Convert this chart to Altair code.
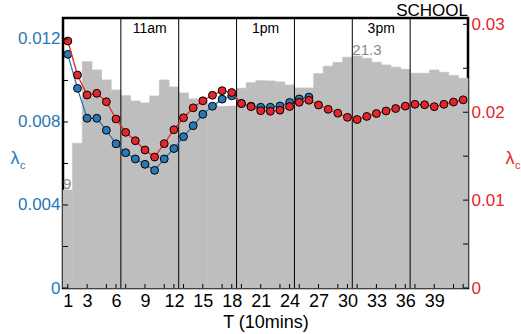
import altair as alt
import pandas as pd

# ---------------- data ----------------
T_blue = list(range(1, 27))
blue_vals = [0.01126, 0.00962, 0.00818, 0.00818, 0.00760, 0.00695, 0.00652, 0.00622,
             0.00596, 0.00567, 0.00622, 0.00672, 0.00729, 0.00782, 0.00837, 0.00876,
             0.00910, 0.00926, 0.00889, 0.00876, 0.00871, 0.00871, 0.00877, 0.00894,
             0.00911, 0.00920]
T_red = list(range(1, 43))
red_vals = [0.0281, 0.02423, 0.02196, 0.02215, 0.02119, 0.01923, 0.01771, 0.01676,
            0.0157, 0.0149, 0.01642, 0.01801, 0.01937, 0.0205, 0.0213, 0.02193,
            0.02245, 0.02224, 0.02099, 0.02063, 0.02017, 0.02011, 0.02023, 0.02065,
            0.02113, 0.02136, 0.02082, 0.02033, 0.01989, 0.01942, 0.01917, 0.01952,
            0.01985, 0.02014, 0.02042, 0.02069, 0.0209, 0.02085, 0.02063, 0.0209,
            0.02116, 0.02141]
T_bar = list(range(1, 43))
bar_vals = [9.0, 13.29, 20.78, 20.02, 19.1, 18.18, 17.66, 17.17, 16.99, 17.63, 19.1,
            18.46, 17.91, 17.36, 17.26, 16.9, 16.67, 16.7, 18.34, 18.85, 19.04, 19.01,
            18.92, 18.64, 18.37, 18.37, 19.68, 20.36, 20.71, 21.18, 21.3, 21.09, 20.72,
            20.48, 20.27, 20.08, 19.71, 19.71, 20.02, 19.8, 19.5, 19.26]
bar_label_T = [0.5, 30.5]
bar_label_v = [9.0, 21.3]
bar_label_txt = ["9", "21.3"]
sep_lines = [6.5, 12.5, 18.5, 24.5, 30.5, 36.5]
time_T = [9.5, 21.5, 33.5]
time_txt = ["11am", "1pm", "3pm"]
x_label_vals = [1, 3, 6, 9, 12, 15, 18, 21, 24, 27, 30, 33, 36, 39]
x_tick_vals = sorted(set(list(range(1, 43, 2)) + list(range(3, 43, 3))))
left_tick_vals = [0, 0.002, 0.004, 0.006, 0.008, 0.010, 0.012]
left_label_vals = [0, 0.004, 0.008, 0.012]
right_tick_vals = [0, 0.005, 0.01, 0.015, 0.02, 0.025, 0.03]
right_label_vals = [0, 0.01, 0.02, 0.03]

W, H = 405, 270
BLUE = "#2a78b5"
RED = "#e3262a"
GRAY = "#bebebe"
FONT = "Liberation Sans"

xs = alt.Scale(domain=[0.5, 42.5], nice=False, zero=False)
ys_blue = alt.Scale(domain=[0, 0.01301], nice=False)
ys_red = alt.Scale(domain=[0, 0.03072], nice=False)
ys_bar = alt.Scale(domain=[0, 24.79], nice=False)

x_axis = alt.Axis(values=x_label_vals, ticks=False, domain=False, grid=False,
                  labelFontSize=18, labelColor="black", labelPadding=4,
                  title="T (10mins)", titleFontSize=18, titleFontWeight="normal",
                  titleColor="black", titlePadding=3, labelFlush=False)


def X(field):
    return alt.X(field, type="quantitative", scale=xs, axis=x_axis)


df_blue = pd.DataFrame({"t": T_blue, "v": blue_vals})
df_red = pd.DataFrame({"t": T_red, "v": red_vals})
df_bar = pd.DataFrame({"t": T_bar, "v": bar_vals})
df_bar_lab = pd.DataFrame({"t": bar_label_T, "v": bar_label_v, "txt": bar_label_txt})
df_sep = pd.DataFrame({"t": sep_lines})
df_time = pd.DataFrame({"t": time_T, "txt": time_txt})
df_xt = pd.DataFrame({"t": x_tick_vals})
df_lt = pd.DataFrame({"v": left_tick_vals})
df_rt = pd.DataFrame({"v": right_tick_vals})
df_one = pd.DataFrame({"a": [0]})

bars = alt.Chart(df_bar).transform_calculate(
    t0="datum.t - 0.5", t1="datum.t + 0.5", z="0"
).mark_bar(color=GRAY, stroke=GRAY, strokeWidth=0.7).encode(
    x=X("t0"), x2="t1",
    y=alt.Y("v:Q", scale=ys_bar, axis=None), y2="z:Q",
)

bar_labels = alt.Chart(df_bar_lab).mark_text(
    align="left", baseline="alphabetic", dy=-1, fontSize=15, font=FONT, color="#8a8a8a"
).encode(x=X("t"), y=alt.Y("v:Q", scale=ys_bar, axis=None), text="txt:N")

seps = alt.Chart(df_sep).mark_rule(color="black", strokeWidth=1).encode(
    x=X("t"), y=alt.value(0), y2=alt.value(H)
)

times = alt.Chart(df_time).mark_text(
    fontSize=14, font=FONT, color="black", baseline="middle"
).encode(x=X("t"), y=alt.value(11), text="txt:N")

blue_axis = alt.Axis(orient="left", values=left_label_vals,
                     labelExpr="datum.value == 0 ? '0' : format(datum.value, '.3f')",
                     labelColor=BLUE, labelFontSize=17, ticks=False, domain=False,
                     grid=False, title=None, labelPadding=3)
red_axis = alt.Axis(orient="right", values=right_label_vals,
                    labelExpr="datum.value == 0 ? '0' : format(datum.value, '.2f')",
                    labelColor=RED, labelFontSize=17, ticks=False, domain=False,
                    grid=False, title=None, labelPadding=3)

blue_line = alt.Chart(df_blue).mark_line(color=BLUE, strokeWidth=1.3).encode(
    x=X("t"), y=alt.Y("v:Q", scale=ys_blue, axis=blue_axis)
)
blue_pts = alt.Chart(df_blue).mark_point(
    filled=True, fill=BLUE, stroke="black", strokeWidth=1, size=62, opacity=1
).encode(x=X("t"), y=alt.Y("v:Q", scale=ys_blue, axis=None))

red_line = alt.Chart(df_red).mark_line(color=RED, strokeWidth=1.3).encode(
    x=X("t"), y=alt.Y("v:Q", scale=ys_red, axis=red_axis)
)
red_pts = alt.Chart(df_red).mark_point(
    filled=True, fill=RED, stroke="black", strokeWidth=1, size=62, opacity=1
).encode(x=X("t"), y=alt.Y("v:Q", scale=ys_red, axis=None))

x_ticks = alt.Chart(df_xt).mark_rule(color="black", strokeWidth=1).encode(
    x=X("t"), y=alt.value(H), y2=alt.value(H - 4)
)
l_ticks = alt.Chart(df_lt).mark_rule(color="black", strokeWidth=1).encode(
    y=alt.Y("v:Q", scale=ys_blue, axis=None), x=alt.value(0), x2=alt.value(5)
)
r_ticks = alt.Chart(df_rt).mark_rule(color="black", strokeWidth=1).encode(
    y=alt.Y("v:Q", scale=ys_red, axis=None), x=alt.value(W - 5), x2=alt.value(W)
)

school = alt.Chart(df_one).mark_text(
    text="SCHOOL", align="right", baseline="alphabetic", fontSize=17, font=FONT,
    color="black"
).encode(x=alt.value(W), y=alt.value(-2))

lam_l = alt.Chart(df_one).mark_text(
    text="λ", align="center", baseline="middle", fontSize=18, font=FONT, color=BLUE
).encode(x=alt.value(-48), y=alt.value(141))
lam_l_c = alt.Chart(df_one).mark_text(
    text="c", align="left", baseline="middle", fontSize=11, font=FONT, color=BLUE
).encode(x=alt.value(-43), y=alt.value(148))
lam_r = alt.Chart(df_one).mark_text(
    text="λ", align="center", baseline="middle", fontSize=18, font=FONT, color=RED
).encode(x=alt.value(W + 42), y=alt.value(141))
lam_r_c = alt.Chart(df_one).mark_text(
    text="c", align="left", baseline="middle", fontSize=11, font=FONT, color=RED
).encode(x=alt.value(W + 47), y=alt.value(148))

chart = alt.layer(
    bars, bar_labels, seps, times, blue_line, blue_pts, red_line, red_pts,
    x_ticks, l_ticks, r_ticks, school, lam_l, lam_l_c, lam_r, lam_r_c
).resolve_scale(y="independent").properties(
    width=W, height=H,
    autosize=alt.AutoSizeParams(type="none"),
    padding={"left": 63, "top": 18, "right": 53, "bottom": 46},
    background="white",
).configure_view(stroke="black", strokeWidth=2.5).configure_axis(
    labelFont=FONT, titleFont=FONT
)

chart.save("out.html", embed_options={"renderer": "svg", "actions": False})
